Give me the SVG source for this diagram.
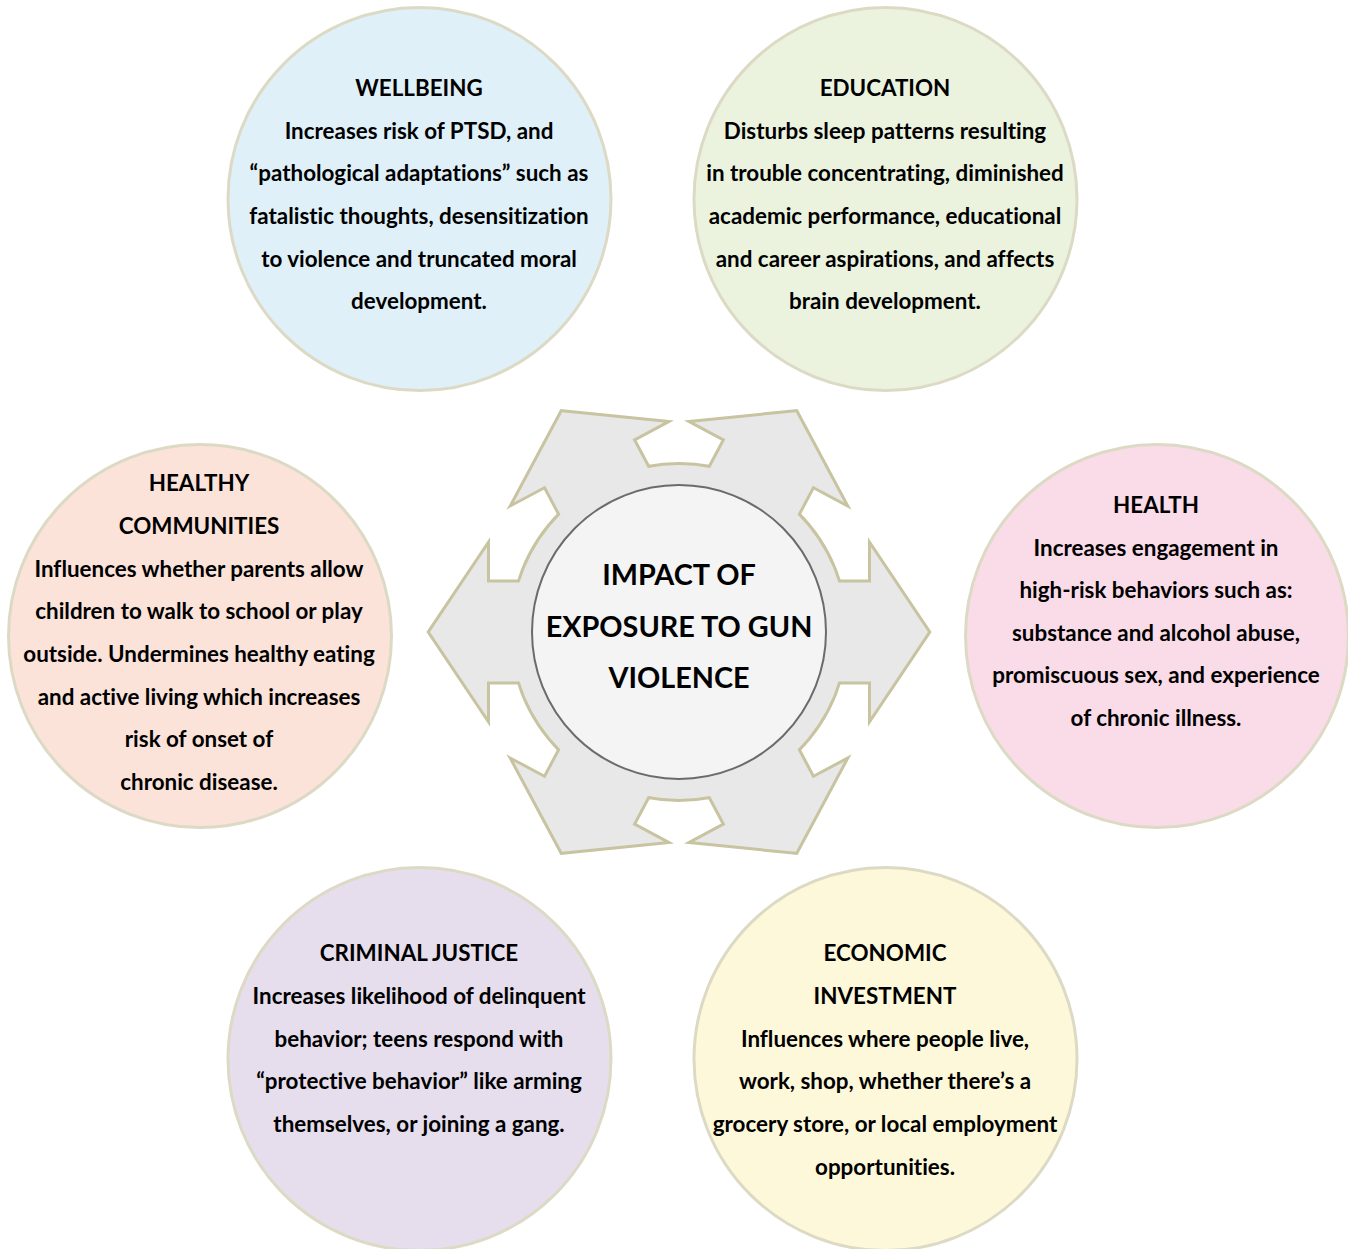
<svg xmlns="http://www.w3.org/2000/svg" width="1348" height="1249" viewBox="0 0 1348 1249">
<defs>
<style>
.bub{stroke:#dcdac4;stroke-width:3}
.t{font-family:Lato,"Open Sans","Liberation Sans",sans-serif;font-weight:bold;font-size:22.4px;fill:#000;text-anchor:middle;font-variant-ligatures:none}
.c{font-family:Lato,"Open Sans","Liberation Sans",sans-serif;font-weight:bold;font-size:28.8px;fill:#000;text-anchor:middle;font-variant-ligatures:none}
.edge{fill:#c8c3a0;stroke:#c8c3a0;stroke-width:6;stroke-linejoin:miter}
.body{fill:#e8e8e8;stroke:none}
</style>
<path id="arr" d="M-249,0 L-192,-85 L-192,-49.5 L0,-49.5 L0,49.5 L-192,49.5 L-192,85 Z"/>
</defs>
<rect width="1348" height="1249" fill="#ffffff"/>
<g id="connectors">
<g transform="translate(679,632)">
<g class="edge">
<circle r="167"/>
<use href="#arr"/>
<use href="#arr" transform="rotate(180)"/>
<use href="#arr" transform="rotate(62)"/>
<use href="#arr" transform="rotate(-62)"/>
<use href="#arr" transform="rotate(118)"/>
<use href="#arr" transform="rotate(-118)"/>
</g>
<g class="body">
<circle r="167"/>
<use href="#arr"/>
<use href="#arr" transform="rotate(180)"/>
<use href="#arr" transform="rotate(62)"/>
<use href="#arr" transform="rotate(-62)"/>
<use href="#arr" transform="rotate(118)"/>
<use href="#arr" transform="rotate(-118)"/>
</g>
</g>
</g>
<g id="center">
<circle cx="679" cy="632" r="147" fill="#f4f4f4" stroke="#6b6b6b" stroke-width="2"/>
<text class="c" x="679" y="585">IMPACT OF</text>
<text class="c" x="679" y="637">EXPOSURE TO GUN</text>
<text class="c" x="679" y="688">VIOLENCE</text>
</g>
<g id="wellbeing">
<circle class="bub" cx="419.5" cy="199" r="191.5" fill="#dff0f8"/>
<text class="t" x="419" y="96">WELLBEING</text>
<text class="t" x="419" y="139">Increases risk of PTSD, and</text>
<text class="t" x="419" y="181">“pathological adaptations” such as</text>
<text class="t" x="419" y="224">fatalistic thoughts, desensitization</text>
<text class="t" x="419" y="267">to violence and truncated moral</text>
<text class="t" x="419" y="309">development.</text>
</g>
<g id="education">
<circle class="bub" cx="885.5" cy="199" r="191.5" fill="#ebf3df"/>
<text class="t" x="885" y="96">EDUCATION</text>
<text class="t" x="885" y="139">Disturbs sleep patterns resulting</text>
<text class="t" x="885" y="181">in trouble concentrating, diminished</text>
<text class="t" x="885" y="224">academic performance, educational</text>
<text class="t" x="885" y="267">and career aspirations, and affects</text>
<text class="t" x="885" y="309">brain development.</text>
</g>
<g id="healthy-communities">
<circle class="bub" cx="200" cy="636" r="191.5" fill="#fbe3da"/>
<text class="t" x="199" y="491">HEALTHY</text>
<text class="t" x="199" y="534">COMMUNITIES</text>
<text class="t" x="199" y="577">Influences whether parents allow</text>
<text class="t" x="199" y="619">children to walk to school or play</text>
<text class="t" x="199" y="662">outside. Undermines healthy eating</text>
<text class="t" x="199" y="705">and active living which increases</text>
<text class="t" x="199" y="747">risk of onset of</text>
<text class="t" x="199" y="790">chronic disease.</text>
</g>
<g id="health">
<circle class="bub" cx="1157" cy="636" r="191.5" fill="#fadbe8"/>
<text class="t" x="1156" y="513">HEALTH</text>
<text class="t" x="1156" y="556">Increases engagement in</text>
<text class="t" x="1156" y="598">high-risk behaviors such as:</text>
<text class="t" x="1156" y="641">substance and alcohol abuse,</text>
<text class="t" x="1156" y="683">promiscuous sex, and experience</text>
<text class="t" x="1156" y="726">of chronic illness.</text>
</g>
<g id="criminal-justice">
<circle class="bub" cx="419.5" cy="1059" r="191.5" fill="#e6deec"/>
<text class="t" x="419" y="961">CRIMINAL JUSTICE</text>
<text class="t" x="419" y="1004">Increases likelihood of delinquent</text>
<text class="t" x="419" y="1047">behavior; teens respond with</text>
<text class="t" x="419" y="1089">“protective behavior” like arming</text>
<text class="t" x="419" y="1132">themselves, or joining a gang.</text>
</g>
<g id="economic-investment">
<circle class="bub" cx="885.5" cy="1059" r="191.5" fill="#fef8da"/>
<text class="t" x="885" y="961">ECONOMIC</text>
<text class="t" x="885" y="1004">INVESTMENT</text>
<text class="t" x="885" y="1047">Influences where people live,</text>
<text class="t" x="885" y="1089">work, shop, whether there’s a</text>
<text class="t" x="885" y="1132">grocery store, or local employment</text>
<text class="t" x="885" y="1175">opportunities.</text>
</g>
</svg>
